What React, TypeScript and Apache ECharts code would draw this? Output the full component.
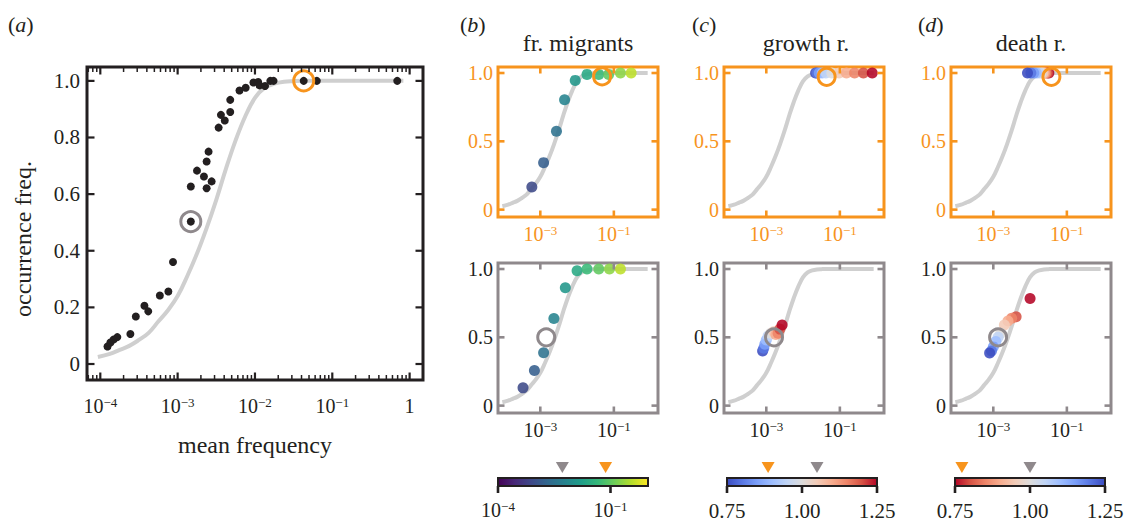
import React, { useEffect, useRef } from 'react';
import * as echarts from 'echarts';

const FONT = "'Liberation Serif', 'Times New Roman', serif";
const INK = '#231f20';
const ORANGE = '#f7941d';
const GRAY = '#8f898c';
const CURVE = '#cfcfcf';

// ---------- data (mean frequency, occurrence freq.) ----------
const curveFreq = [9.3e-5, 1.33e-4, 1.78e-4, 2.37e-4, 3.16e-4, 4.22e-4, 5.62e-4, 7.5e-4, 1e-3, 1.33e-3, 1.78e-3, 2.37e-3, 3.16e-3, 4.22e-3, 5.62e-3, 7.5e-3, 1e-2, 1.33e-2, 1.78e-2, 2.37e-2, 3.16e-2, 4.22e-2, 5.62e-2, 0.1, 0.83];
const curveOcc = [0.025, 0.036, 0.05, 0.064, 0.085, 0.11, 0.15, 0.19, 0.24, 0.31, 0.39, 0.48, 0.58, 0.69, 0.79, 0.875, 0.94, 0.975, 0.99, 0.997, 0.999, 1.0, 1.0, 1.0, 1.0];

const aFreq = [1.24e-4, 1.35e-4, 1.48e-4, 1.66e-4, 2.45e-4, 2.88e-4, 3.72e-4, 4.17e-4, 5.89e-4, 7.59e-4, 8.71e-4, 1.48e-3, 1.48e-3, 1.78e-3, 2.19e-3, 2.37e-3, 2.37e-3, 2.51e-3, 2.75e-3, 3.39e-3, 3.63e-3, 4.07e-3, 4.79e-3, 4.79e-3, 6.31e-3, 7.59e-3, 9.55e-3, 1.1e-2, 1.15e-2, 1.35e-2, 1.58e-2, 1.74e-2, 4.27e-2, 6.31e-2, 0.692];
const aOcc = [0.062, 0.076, 0.086, 0.095, 0.106, 0.168, 0.206, 0.186, 0.242, 0.256, 0.36, 0.503, 0.627, 0.683, 0.662, 0.621, 0.715, 0.75, 0.645, 0.835, 0.88, 0.86, 0.89, 0.933, 0.966, 0.976, 0.994, 0.996, 0.984, 0.982, 1.0, 1.0, 1.0, 1.0, 1.0];
const aGrayRing = [1.48e-3, 0.503];
const aOrangeRing = [4.27e-2, 1.0];

// (b) fraction of migrants
const migrants = [0.0008, 0.0016, 0.0032, 0.0063, 0.0125, 0.025, 0.05, 0.1, 0.2, 0.4];
const bTopFreq = [5.89e-4, 1.23e-3, 2.75e-3, 4.57e-3, 8.91e-3, 1.86e-2, 3.89e-2, 7.24e-2, 0.151, 0.295];
const bTopOcc = [0.166, 0.344, 0.573, 0.805, 0.946, 0.99, 0.99, 0.99, 1.0, 1.0];
const bBotFreq = [3.39e-4, 6.92e-4, 1.23e-3, 2.34e-3, 4.79e-3, 1e-2, 1.86e-2, 3.89e-2, 7.59e-2, 0.151];
const bBotOcc = [0.13, 0.257, 0.387, 0.637, 0.863, 0.988, 1.0, 1.0, 1.0, 1.0];
const bTopRing = [4.79e-2, 0.975];
const bBotRing = [1.45e-3, 0.5];
const bMarkGray = 5.2e-3;
const bMarkOrange = 7.4e-2;

// (c) growth rate
const growth = [0.75, 0.8, 0.85, 0.9, 0.95, 1.0, 1.05, 1.1, 1.15, 1.2, 1.25];
const cTopFreq = [2.19e-2, 2.4e-2, 2.75e-2, 3.31e-2, 4.17e-2, 6.03e-2, 9.55e-2, 0.151, 0.251, 0.437, 0.759];
const cTopOcc = [1, 1, 1, 1, 1, 1, 1, 1, 1, 1, 1];
const cBotFreq = [7.94e-4, 8.51e-4, 9.12e-4, 1.0e-3, 1.12e-3, 1.32e-3, 1.58e-3, 1.82e-3, 2.09e-3, 2.34e-3, 2.69e-3];
const cBotOcc = [0.4, 0.42, 0.45, 0.48, 0.51, 0.53, 0.54, 0.52, 0.53, 0.56, 0.59];
const cTopRing = [4.37e-2, 0.972];
const cBotRing = [1.62e-3, 0.5];
const cMarkOrange = 0.887;
const cMarkGray = 1.05;

// (d) death rate
const death = [0.75, 0.8, 0.85, 0.9, 0.95, 1.0, 1.05, 1.1, 1.15, 1.2, 1.25];
const dTopFreq = [3.24e-2, 2.95e-2, 2.69e-2, 2.45e-2, 2.24e-2, 2.0e-2, 1.74e-2, 1.48e-2, 1.26e-2, 1.05e-2, 8.51e-3];
const dTopOcc = [1, 1, 1, 1, 1, 1, 1, 1, 1, 1, 1];
const dBotFreq = [1.0e-2, 4.17e-3, 3.16e-3, 2.51e-3, 2.0e-3, 1.58e-3, 1.35e-3, 1.17e-3, 1.0e-3, 8.91e-4, 7.94e-4];
const dBotOcc = [0.784, 0.65, 0.64, 0.62, 0.59, 0.53, 0.5, 0.47, 0.43, 0.4, 0.385];
const dTopRing = [3.8e-2, 0.972];
const dBotRing = [1.35e-3, 0.5];
const dMarkOrange = 0.773;
const dMarkGray = 1.0;

// tick labels
const aXTicks = [-4, -3, -2, -1, 0];
const aYTicks = [0, 0.2, 0.4, 0.6, 0.8, 1.0];
const sXTicks = [-3, -1];
const sYTicks = [0, 0.5, 1.0];
const cbLogTicks = [-4, -1];
const cbRateTicks = [0.75, 1.0, 1.25];

const viridis = ['#440154', '#482878', '#3e4989', '#31688e', '#26828e', '#1f9e89', '#35b779', '#6ece58', '#b5de2b', '#fde725'];
const coolwarm = ['#3b4cc0', '#5977e3', '#7b9ff9', '#9ebeff', '#c0d4f5', '#dddcdc', '#f2cbb7', '#f7ac8e', '#ee8468', '#d65244', '#b40426'];

const L = Math.log10;

function powLabel(v: number) {
  if (Math.abs(v) < 1e-9) return '{b|1}';
  return '{b|10}{s|\u2212' + Math.round(-v) + '}';
}
function powRich(color: string, size: number, sup: number) {
  return {
    b: { fontFamily: FONT, fontSize: size, color },
    s: { fontFamily: FONT, fontSize: sup, color, verticalAlign: 'top' },
  };
}

const noLine = { show: false, onZero: false };

type Box = { left: number; top: number; W: number; H: number; xr: number[]; yr: number[] };

function buildOption() {
  const grids: any[] = [];
  const xAxes: any[] = [];
  const yAxes: any[] = [];
  const series: any[] = [];
  const visualMaps: any[] = [];
  const tickEls: any[] = [];

  // axis-decoration ticks: positions follow the same linear mapping as each grid's value axes
  const px = (b: Box, x: number) => b.left + ((x - b.xr[0]) / (b.xr[1] - b.xr[0])) * b.W;
  const py = (b: Box, y: number) => b.top + ((b.yr[1] - y) / (b.yr[1] - b.yr[0])) * b.H;
  const rect = (x: number, y: number, w: number, h: number, color: string) =>
    tickEls.push({ type: 'rect', z: 100, zlevel: 1, silent: true, shape: { x, y, width: w, height: h }, style: { fill: color } });
  const frameTicks = (b: Box, xt: number[], yt: number[], len: number, w: number, color: string) => {
    xt.forEach((v) => {
      const x = px(b, v);
      rect(x - w / 2, b.top + b.H - len, w, len, color);
      rect(x - w / 2, b.top, w, len, color);
    });
    yt.forEach((v) => {
      const y = py(b, v);
      rect(b.left, y - w / 2, len, w, color);
      rect(b.left + b.W - len, y - w / 2, len, w, color);
    });
  };

  // ---------- panel (a) ----------
  const AX = [-4.172, 0.173];
  const AY = [-0.0565, 1.049];
  const boxA: Box = { left: 87, top: 67, W: 336, H: 313, xr: AX, yr: AY };
  grids.push({ left: boxA.left, top: boxA.top, width: boxA.W, height: boxA.H, show: true, borderColor: INK, borderWidth: 3, backgroundColor: 'transparent' });
  xAxes.push({
    type: 'value', gridIndex: 0, position: 'bottom', min: AX[0], max: AX[1],
    axisLine: noLine, splitLine: { show: false }, axisTick: { show: false },
    axisLabel: { show: true, customValues: aXTicks, margin: 16, formatter: powLabel, rich: powRich(INK, 20, 13) },
  });
  yAxes.push({
    type: 'value', gridIndex: 0, position: 'left', min: AY[0], max: AY[1],
    axisLine: noLine, splitLine: { show: false }, axisTick: { show: false },
    axisLabel: { show: true, customValues: aYTicks, margin: 7, color: INK, fontFamily: FONT, fontSize: 21, formatter: (v: number) => (Math.abs(v) < 1e-9 ? '0' : v.toFixed(1)) },
  });
  const minor: number[] = [];
  for (let n = -5; n <= 0; n++) for (let k = 2; k <= 9; k++) {
    const v = n + L(k);
    if (v > AX[0] + 0.01 && v < AX[1] - 0.01) minor.push(v);
  }

  series.push({
    type: 'line', xAxisIndex: 0, yAxisIndex: 0, data: curveFreq.map((f, i) => [L(f), curveOcc[i]]),
    smooth: 0.4, showSymbol: false, symbol: 'none', lineStyle: { color: CURVE, width: 4 }, z: 2, silent: true,
  });
  series.push({
    type: 'scatter', xAxisIndex: 0, yAxisIndex: 0, data: aFreq.map((f, i) => [L(f), aOcc[i]]),
    symbolSize: 8, itemStyle: { color: INK, opacity: 1 }, z: 3, silent: true,
  });
  series.push({
    type: 'scatter', xAxisIndex: 0, yAxisIndex: 0, data: [[L(aGrayRing[0]), aGrayRing[1]]],
    symbolSize: 20, itemStyle: { color: 'rgba(0,0,0,0)', borderColor: GRAY, borderWidth: 3, opacity: 1 }, z: 4, silent: true,
  });
  series.push({
    type: 'scatter', xAxisIndex: 0, yAxisIndex: 0, data: [[L(aOrangeRing[0]), aOrangeRing[1]]],
    symbolSize: 20, itemStyle: { color: 'rgba(0,0,0,0)', borderColor: ORANGE, borderWidth: 3, opacity: 1 }, z: 4, silent: true,
  });
  frameTicks(boxA, aXTicks, aYTicks, 7.5, 2.2, INK);
  frameTicks(boxA, minor, [], 5, 1.5, INK);

  // ---------- small panels ----------
  const SX = [-4.15, 0.2];
  const SY = [-0.054, 1.044];
  const smallPanel = (left: number, top: number, frame: string, labelColor: string, freq: number[], occ: number[], params: number[], ring: number[], ringColor: string) => {
    const box: Box = { left, top, W: 160, H: 150, xr: SX, yr: SY };
    grids.push({ left, top, width: box.W, height: box.H, show: true, borderColor: frame, borderWidth: 3, backgroundColor: 'transparent' });
    const gi = grids.length - 1;
    xAxes.push({
      type: 'value', gridIndex: gi, position: 'bottom', min: SX[0], max: SX[1],
      axisLine: noLine, splitLine: { show: false }, axisTick: { show: false },
      axisLabel: { show: true, customValues: sXTicks, margin: 7, formatter: powLabel, rich: powRich(labelColor, 20, 13) },
    });
    const xi = xAxes.length - 1;
    yAxes.push({
      type: 'value', gridIndex: gi, position: 'left', min: SY[0], max: SY[1],
      axisLine: noLine, splitLine: { show: false }, axisTick: { show: false },
      axisLabel: { show: true, customValues: sYTicks, margin: 5, color: labelColor, fontFamily: FONT, fontSize: 20, formatter: (v: number) => (Math.abs(v) < 1e-9 ? '0' : v === 1 ? '1.0' : String(v)) },
    });
    const yi = yAxes.length - 1;
    series.push({
      type: 'line', xAxisIndex: xi, yAxisIndex: yi, data: curveFreq.map((f, i) => [L(f), curveOcc[i]]),
      smooth: 0.4, showSymbol: false, symbol: 'none', lineStyle: { color: CURVE, width: 4 }, z: 2, silent: true,
    });
    series.push({
      type: 'scatter', xAxisIndex: xi, yAxisIndex: yi, data: freq.map((f, i) => [L(f), occ[i], params[i]]),
      symbolSize: 11, itemStyle: { opacity: 0.88 }, z: 3, silent: true,
    });
    const si = series.length - 1;
    series.push({
      type: 'scatter', xAxisIndex: xi, yAxisIndex: yi, data: [[L(ring[0]), ring[1]]],
      symbolSize: 17, itemStyle: { color: 'rgba(0,0,0,0)', borderColor: ringColor, borderWidth: 3, opacity: 1 }, z: 4, silent: true,
    });
    frameTicks(box, sXTicks, sYTicks, 6.5, 2.6, frame);
    return si;
  };

  const migLog = migrants.map((m) => L(m));
  const b1 = smallPanel(498, 67, ORANGE, ORANGE, bTopFreq, bTopOcc, migLog, bTopRing, ORANGE);
  const b2 = smallPanel(498, 263, GRAY, INK, bBotFreq, bBotOcc, migLog, bBotRing, GRAY);
  const c1 = smallPanel(724, 67, ORANGE, ORANGE, cTopFreq, cTopOcc, growth, cTopRing, ORANGE);
  const c2 = smallPanel(724, 263, GRAY, INK, cBotFreq, cBotOcc, growth, cBotRing, GRAY);
  const d1 = smallPanel(951, 67, ORANGE, ORANGE, dTopFreq, dTopOcc, death, dTopRing, ORANGE);
  const d2 = smallPanel(951, 263, GRAY, INK, dBotFreq, dBotOcc, death, dBotRing, GRAY);

  visualMaps.push({ type: 'continuous', show: false, dimension: 2, min: -4, max: 0, seriesIndex: [b1, b2], inRange: { color: viridis } });
  visualMaps.push({ type: 'continuous', show: false, dimension: 2, min: 0.75, max: 1.25, seriesIndex: [c1, c2], inRange: { color: coolwarm } });
  visualMaps.push({ type: 'continuous', show: false, dimension: 2, min: 0.75, max: 1.25, seriesIndex: [d1, d2], inRange: { color: coolwarm.slice().reverse() } });

  // ---------- colour bars ----------
  const grad = (cols: string[]) => new echarts.graphic.LinearGradient(0, 0, 1, 0, cols.map((c, i) => ({ offset: i / (cols.length - 1), color: c })));
  const colorBar = (left: number, cols: string[], min: number, max: number, tv: number[], formatter: any, rich: any, marks: number[][]) => {
    const box: Box = { left, top: 478, W: 150, H: 8, xr: [min, max], yr: [0, 1] };
    grids.push({ left, top: box.top, width: box.W, height: box.H, show: true, borderColor: INK, borderWidth: 2, backgroundColor: grad(cols) });
    const gi = grids.length - 1;
    xAxes.push({
      type: 'value', gridIndex: gi, position: 'bottom', min, max,
      axisLine: noLine, splitLine: { show: false }, axisTick: { show: false },
      axisLabel: { show: true, customValues: tv, margin: 14, formatter, rich, color: INK, fontFamily: FONT, fontSize: 21 },
    });
    const xi = xAxes.length - 1;
    yAxes.push({ type: 'value', gridIndex: gi, min: 0, max: 1, show: false });
    const yi = yAxes.length - 1;
    marks.forEach(([v, isOrange]) => {
      series.push({
        type: 'scatter', xAxisIndex: xi, yAxisIndex: yi, data: [[v, 2.3]], clip: false,
        symbol: 'triangle', symbolRotate: 180, symbolSize: [13, 11], itemStyle: { color: isOrange ? ORANGE : GRAY, opacity: 1 }, silent: true,
      });
    });
    tv.forEach((v) => rect(px(box, v) - 1.3, box.top + box.H, 2.6, 7, INK));
  };
  colorBar(498, viridis, -4, 0, cbLogTicks, powLabel, powRich(INK, 20, 13), [[L(bMarkGray), 0], [L(bMarkOrange), 1]]);
  colorBar(727, coolwarm, 0.75, 1.25, cbRateTicks, (v: number) => v.toFixed(2), undefined, [[cMarkOrange, 1], [cMarkGray, 0]]);
  colorBar(955, coolwarm.slice().reverse(), 0.75, 1.25, cbRateTicks, (v: number) => v.toFixed(2), undefined, [[dMarkOrange, 1], [dMarkGray, 0]]);

  // ---------- texts ----------
  const letterRich = {
    p: { fontFamily: FONT, fontSize: 22, fill: INK },
    i: { fontFamily: FONT, fontSize: 22, fontStyle: 'italic', fill: INK },
  };
  const letter = (x: number, l: string) => ({
    type: 'text', x, y: 24, style: { text: '{p|(}{i|' + l + '}{p|)}', rich: letterRich, align: 'left', verticalAlign: 'middle', fill: INK, font: '22px ' + FONT },
  });
  const label = (x: number, y: number, t: string, rot = 0) => ({
    type: 'text', x, y, rotation: rot, style: { text: t, fill: INK, font: '24px ' + FONT, align: 'center', verticalAlign: 'middle' },
  });
  const graphic = [
    letter(8, 'a'), letter(460, 'b'), letter(692, 'c'), letter(918, 'd'),
    label(578, 43, 'fr. migrants'), label(806, 43, 'growth r.'), label(1031, 43, 'death r.'),
    label(255, 445, 'mean frequency'), label(23, 239, 'occurrence freq.', Math.PI / 2),
    ...tickEls,
  ];

  return {
    animation: false,
    backgroundColor: '#ffffff',
    textStyle: { fontFamily: FONT },
    grid: grids,
    xAxis: xAxes,
    yAxis: yAxes,
    visualMap: visualMaps,
    series,
    graphic,
  };
}

export default function App() {
  const ref = useRef<HTMLDivElement>(null);
  useEffect(() => {
    const chart = echarts.init(ref.current!, null, { renderer: 'svg' });
    chart.setOption(buildOption() as any);
    return () => chart.dispose();
  }, []);
  return <div ref={ref} style={{ width: 1128, height: 525, position: 'absolute', left: 0, top: 0 }} />;
}
